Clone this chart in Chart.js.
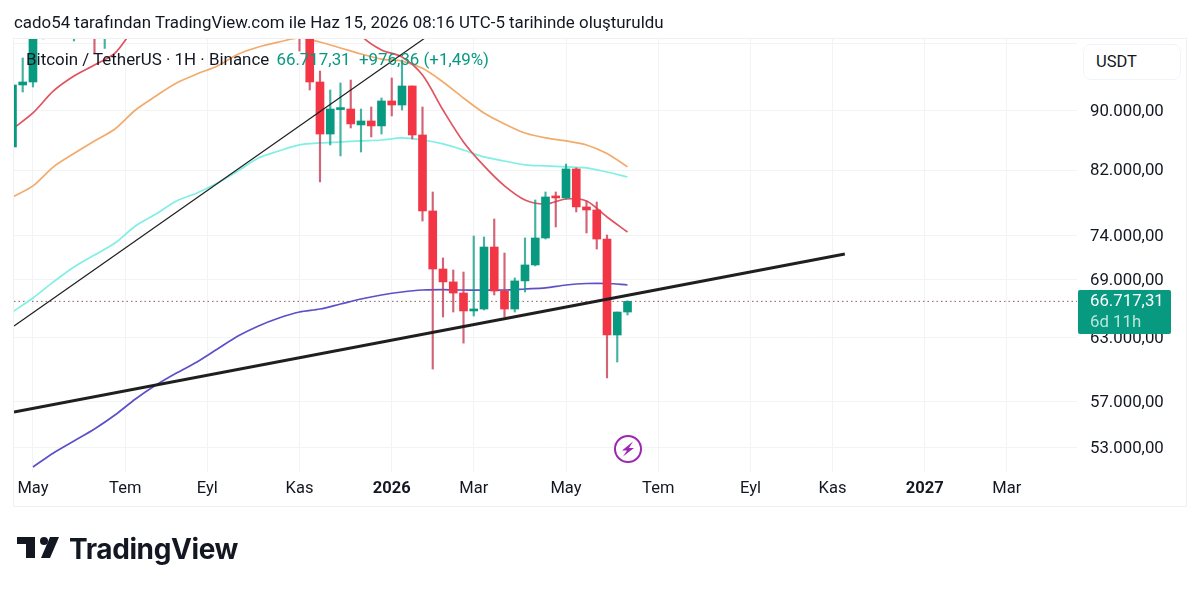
<!DOCTYPE html>
<html>
<head>
<meta charset="utf-8">
<title>BTCUSDT</title>
<script src="https://cdn.jsdelivr.net/npm/chart.js@4/dist/chart.umd.min.js"></script>
<style>
    body { margin: 0; background: #fff; font-family: Roboto, sans-serif; color: #131722; }
    #wrap { position: relative; width: 1200px; height: 591px; overflow: hidden; }
    #wrap div, #wrap svg { position: absolute; white-space: nowrap; }
    #frame { left: 13px; top: 38px; width: 1172px; height: 467px; border: 1px solid #f0f0f2; }
    #heading { left: 14px; top: 13px; font-size: 16.9px; line-height: 19px; }
    #legend { left: 26px; top: 50px; font-size: 16.9px; line-height: 19px; }
    #legend span { color: #089981; margin-left: 3px; }
    #unit { left: 1083px; top: 44px; width: 84px; height: 34px; padding-left: 12px; border: 1px solid #f0f3fa; border-radius: 8px; background: #fff; font-size: 16.5px; line-height: 34px; }
    #lastPrice { left: 1078px; top: 290px; width: 81px; height: 44px; padding-left: 12px; background: #089981; border-radius: 2px; color: #fff; font-size: 16.8px; line-height: 21px; }
    #lastPrice small { display: block; font-size: 16.8px; color: #b8e6dd; }
    #brand { left: 69px; top: 531px; font-family: Inter, sans-serif; font-weight: 700; font-size: 28px; line-height: 36px; color: #131722; letter-spacing: -0.4px; }
</style>
</head>
<body>
<div id="wrap">
    <canvas id="btcChart" width="1200" height="591"></canvas>
    <div id="frame"></div>
    <div id="heading">cado54 tarafından TradingView.com ile Haz 15, 2026 08:16 UTC-5 tarihinde oluşturuldu</div>
    <div id="legend">Bitcoin / TetherUS · 1H · Binance <span>66.717,31 &nbsp;+976,36 (+1,49%)</span></div>
    <div id="unit">USDT</div>
    <div id="lastPrice">66.717,31<small>6d 11h</small></div>
    <svg style="left:612px;top:434px" width="32" height="32" viewBox="0 0 32 32">
        <circle cx="16" cy="15" r="13" fill="#fff" stroke="#9c27b0" stroke-width="2"></circle>
        <path d="M21 7.5 L10 16.5 L15 16.5 L11 22.5 L22 14 L17 14 Z" fill="#9c27b0"></path>
    </svg>
    <svg style="left:16px;top:536px" width="44" height="23" viewBox="0 0 44 23">
        <path d="M1 1 H19 V22 H10 V8 H1 Z" fill="#131722"></path>
        <circle cx="28" cy="5" r="4" fill="#131722"></circle>
        <path d="M34 1 H43 L34 22 H25 Z" fill="#131722"></path>
    </svg>
    <div id="brand">TradingView</div>
</div>
<script>
    const firstWeek = -2;
    const opens = [85050, 93760, 94200, 103000, 104500, 106000, 105500, 105800, 106000, 104500, 108300, 109000, 108500, 117000, 118000, 119000, 114000, 119500, 117500, 115500, 113000, 111000, 115500, 116000, 112000, 123500, 115000, 108500, 110000, 104000, 94200, 86800, 90200, 90280, 88050, 88600, 87910, 91430, 90850, 93610, 86670, 76910, 70200, 68790, 67600, 65720, 65920, 72670, 67810, 65920, 68900, 70650, 73710, 78620, 78500, 82160, 77400, 77030, 73590, 63280, 65610];
    const closes = [93760, 94200, 103000, 104500, 106000, 105500, 105800, 105200, 104500, 108300, 109000, 108500, 117000, 118000, 119000, 114000, 119500, 117500, 115500, 113000, 111000, 115500, 116000, 112000, 123500, 115000, 108500, 110000, 104000, 94200, 86800, 90280, 90350, 88190, 88600, 87910, 91430, 90850, 93610, 86670, 76910, 70200, 68790, 67600, 65720, 65920, 72670, 67810, 65920, 68900, 70650, 73710, 78620, 78500, 82160, 77400, 77030, 73590, 63280, 65610, 66717.31];
    const highs = [93800, 97820, 105000, 106000, 107000, 109000, 108000, 110000, 108000, 110500, 110500, 112000, 118500, 123000, 120000, 120000, 122000, 124000, 124500, 117000, 114500, 116500, 118000, 117500, 125000, 126000, 116000, 116000, 112000, 107000, 95840, 93020, 94050, 94490, 90280, 90570, 91860, 94790, 97510, 93610, 90570, 79240, 71430, 70090, 69870, 73940, 73830, 75940, 71990, 69220, 73710, 78250, 79240, 79240, 82800, 82300, 78130, 78000, 74060, 65610, 66780];
    const lows = [85000, 92730, 93460, 100800, 101500, 102500, 100470, 102000, 98590, 99300, 106000, 105000, 107500, 115500, 116000, 112000, 113000, 116000, 111000, 108000, 107000, 110500, 113000, 108000, 111000, 102000, 106500, 103500, 98900, 93020, 80500, 85320, 83860, 87630, 84380, 86400, 86800, 89300, 90140, 86130, 75700, 59980, 65100, 65610, 62480, 65200, 65820, 67390, 65100, 65610, 67710, 70540, 73590, 75000, 78370, 76790, 74290, 72440, 59150, 60650, 65300];

    const lineWeeks = [-2, 0, 2, 4, 6, 8, 10, 12, 14, 16, 18, 20, 22, 24, 26, 28, 30, 32, 34, 36, 38, 40, 42, 44, 46, 48, 50, 52, 54, 56, 58];
    const redLine = [87490, 89720, 92880, 95090, 96750, 98590, 102550, 104000, 106000, 108000, 110000, 112000, 113000, 114000, 113000, 110000, 106000, 101350, 99060, 97980, 95240, 90140, 85720, 82550, 80000, 78250, 77760, 78370, 78130, 76180, 74400];
    const orangeLine = [78620, 80000, 82440, 84180, 85860, 87490, 90140, 92150, 94050, 95400, 96600, 98400, 99530, 100310, 100950, 100310, 99370, 98440, 97660, 97350, 96240, 94200, 91860, 89720, 88190, 86940, 86270, 85860, 85320, 84180, 82430];
    const cyanLine = [65610, 67070, 68790, 70420, 71760, 73130, 75110, 76540, 78130, 79120, 80380, 81900, 83590, 84520, 85320, 85590, 85720, 85860, 85990, 86270, 85990, 85460, 84650, 83730, 83200, 82680, 82550, 82430, 82300, 81770, 81130];
    const blueLine = [null, 51420, 52570, 53570, 54590, 55800, 57220, 58490, 59610, 60650, 61900, 63180, 64190, 65000, 65610, 65920, 66440, 66970, 67390, 67710, 67920, 67970, 67920, 67920, 67920, 68030, 68140, 68460, 68620, 68620, 68460];

    const thinTrendWeeks = [-1.85, 38.24];
    const thinTrend = [64180, 100946];
    const thickTrendWeeks = [-1.85, 79.2];
    const thickTrend = [56060, 71880];
    const lastClose = 66717.31;

    const priceTicks = [100000, 90000, 82000, 74000, 69000, 63000, 57000, 53000];
    const priceLabels = ['', '90.000,00', '82.000,00', '74.000,00', '69.000,00', '63.000,00', '57.000,00', '53.000,00'];
    const timeTicks = [0, 9, 17, 26, 35, 43, 52, 61, 70, 78, 87, 95];
    const timeLabels = ['May', 'Tem', 'Eyl', 'Kas', '2026', 'Mar', 'May', 'Tem', 'Eyl', 'Kas', '2027', 'Mar'];

    const upColor = '#089981';
    const downColor = '#f23645';
    const upWick = 'rgba(8, 153, 129, 0.75)';
    const downWick = 'rgba(200, 60, 85, 0.8)';
    const gridColor = '#f2f3f5';

    let candleColors = opens.map((open, i) => closes[i] >= open ? upColor : downColor);
    let wickColors = opens.map((open, i) => closes[i] >= open ? upWick : downWick);
    let wickData = highs.map((high, i) => ({ x: firstWeek + i, y: [lows[i], high] }));
    let bodyData = opens.map((open, i) => ({ x: firstWeek + i, y: [open, closes[i]] }));

    function lineSet(values, color, order) {
        return {
            type: 'line',
            data: lineWeeks.map((week, i) => ({ x: week, y: values[i] })),
            borderColor: color,
            borderWidth: 1.7,
            pointRadius: 0,
            tension: 0.3,
            order: order
        };
    }

    function trendSet(weeks, values, width) {
        return {
            type: 'line',
            data: weeks.map((week, i) => ({ x: week, y: values[i] })),
            borderColor: '#1f1f1f',
            borderWidth: width,
            pointRadius: 0,
            order: 0
        };
    }

    new Chart(document.getElementById('btcChart').getContext('2d'), {
        type: 'bar',
        data: {
            datasets: [
                trendSet(thickTrendWeeks, thickTrend, 3),
                trendSet(thinTrendWeeks, thinTrend, 1.2),
                {
                    data: bodyData,
                    backgroundColor: candleColors,
                    barThickness: 8,
                    minBarLength: 2,
                    grouped: false,
                    order: 1
                },
                {
                    data: wickData,
                    backgroundColor: wickColors,
                    barThickness: 1.5,
                    grouped: false,
                    order: 2
                },
                lineSet(redLine, '#e0535f', 3),
                lineSet(orangeLine, '#f2ab6c', 3),
                lineSet(cyanLine, '#80efe6', 3),
                lineSet(blueLine, '#5c50c9', 3),
                {
                    type: 'line',
                    data: [{ x: -1.85, y: lastClose }, { x: 101.85, y: lastClose }],
                    borderColor: '#8a5f5f',
                    borderWidth: 1,
                    borderDash: [1.5, 3],
                    pointRadius: 0,
                    order: 4
                }
            ]
        },
        options: {
            responsive: false,
            animation: false,
            layout: { padding: { left: 14, top: 38, right: 14, bottom: 85 } },
            plugins: { legend: { display: false }, tooltip: { enabled: false } },
            scales: {
                x: {
                    type: 'linear',
                    offset: false,
                    min: -1.85,
                    max: 101.85,
                    grid: { color: gridColor, offset: false, drawTicks: false },
                    border: { display: false },
                    afterFit: function (scale) {
                        scale.height = 34;
                        scale.paddingLeft = 0;
                        scale.paddingRight = 0;
                    },
                    afterBuildTicks: function (scale) {
                        scale.ticks = timeTicks.map(week => ({ value: week }));
                    },
                    ticks: {
                        autoSkip: false,
                        maxRotation: 0,
                        padding: 7,
                        color: '#131722',
                        font: function (context) {
                            let isYear = context.tick && /^\d+$/.test(context.tick.label);
                            return { family: 'Roboto', size: 16.5, weight: isYear ? 'bold' : 'normal' };
                        },
                        callback: function (value, index) {
                            return timeLabels[index];
                        }
                    }
                },
                y: {
                    type: 'logarithmic',
                    position: 'right',
                    min: 51018,
                    max: 100946,
                    grid: { color: gridColor, drawTicks: false },
                    border: { display: false },
                    afterFit: function (scale) {
                        scale.width = 109;
                        scale.paddingTop = 0;
                        scale.paddingBottom = 0;
                    },
                    afterBuildTicks: function (scale) {
                        scale.ticks = priceTicks.map(price => ({ value: price }));
                    },
                    ticks: {
                        autoSkip: false,
                        padding: 13,
                        labelOffset: 1,
                        color: '#131722',
                        font: { family: 'Roboto', size: 16.8 },
                        callback: function (value, index) {
                            return priceLabels[index];
                        }
                    }
                }
            }
        }
    });
</script>
</body>
</html>
